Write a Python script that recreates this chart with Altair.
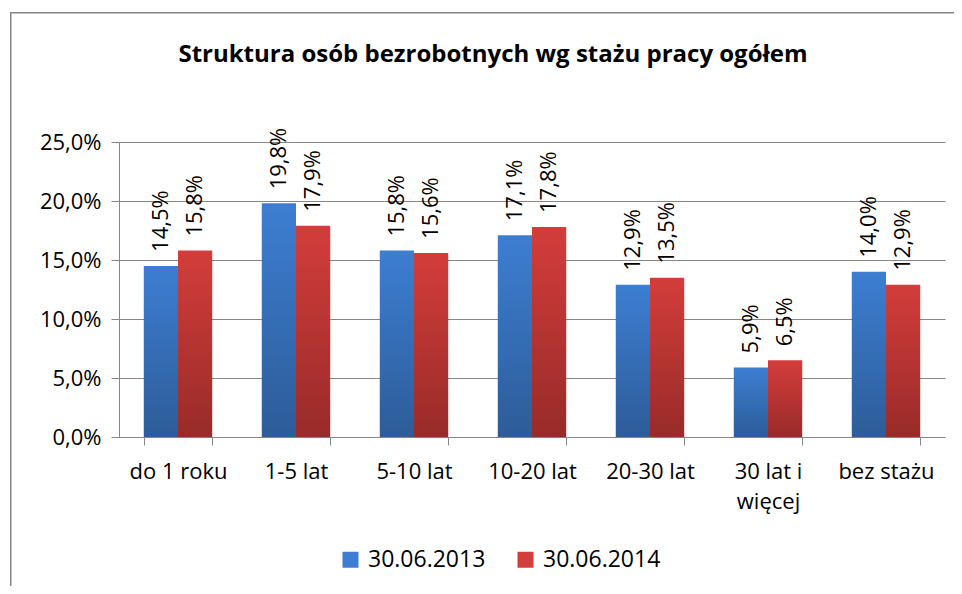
import altair as alt
import pandas as pd

title_text = "Struktura osób bezrobotnych wg stażu pracy ogółem"
categories = ["do 1 roku", "1-5 lat", "5-10 lat", "10-20 lat", "20-30 lat", "30 lat i więcej", "bez stażu"]
series = ["30.06.2013", "30.06.2014"]
v2013 = [0.145, 0.198, 0.158, 0.171, 0.129, 0.059, 0.140]
v2014 = [0.158, 0.179, 0.156, 0.178, 0.135, 0.065, 0.129]
y_ticks = [0, 0.05, 0.10, 0.15, 0.20, 0.25]

rows = []
for c, a, b in zip(categories, v2013, v2014):
    rows.append({"cat": c, "series": series[0], "value": a})
    rows.append({"cat": c, "series": series[1], "value": b})
df = pd.DataFrame(rows)

FONT = "Open Sans"
GRAY = "#868686"
BLUE_TOP, BLUE_BOT = "#3D7ED2", "#2D5C98"
RED_TOP, RED_BOT = "#D33D3B", "#982B29"

x_enc = alt.X(
    "cat:N",
    sort=categories,
    scale=alt.Scale(domain=categories, paddingInner=0.42, paddingOuter=0.21),
    axis=alt.Axis(
        title=None,
        tickBand="extent",
        labelExpr="datum.label == '30 lat i więcej' ? ['30 lat i', 'więcej'] : datum.label",
        labelAngle=0,
        labelFontSize=22,
        labelLineHeight=30,
        labelPadding=16,
        tickSize=8,
        labelColor="#000000",
        labelFont=FONT,
        domainColor=GRAY,
        tickColor=GRAY,
        grid=False,
    ),
)
xo_enc = alt.XOffset("series:N", scale=alt.Scale(domain=series, paddingInner=0, paddingOuter=0))
y_enc = alt.Y(
    "value:Q",
    scale=alt.Scale(domain=[0, 0.25], nice=False),
    axis=alt.Axis(
        title=None,
        values=y_ticks,
        labelExpr="replace(format(datum.value, '.1%'), '.', ',')",
        labelFontSize=22,
        labelFont=FONT,
        labelColor="#000000",
        labelPadding=10,
        tickSize=8,
        domainColor=GRAY,
        tickColor=GRAY,
        gridColor=GRAY,
        grid=True,
    ),
)

base = alt.Chart(df)

def grad(top, bot):
    return alt.Gradient(
        gradient="linear",
        stops=[alt.GradientStop(color=top, offset=0), alt.GradientStop(color=bot, offset=1)],
        x1=0, x2=0, y1=0, y2=1,
    )

bars13 = base.transform_filter(alt.datum.series == series[0]).mark_bar(
    color=grad(BLUE_TOP, BLUE_BOT)
).encode(x=x_enc, xOffset=xo_enc, y=y_enc)
bars14 = base.transform_filter(alt.datum.series == series[1]).mark_bar(
    color=grad(RED_TOP, RED_BOT)
).encode(x=x_enc, xOffset=xo_enc, y=y_enc)

labels = base.transform_calculate(
    label="replace(format(datum.value, '.1%'), '.', ',')"
).mark_text(
    angle=270, align="left", baseline="middle", dx=14, fontSize=22, font=FONT, color="#000000"
).encode(x=x_enc, xOffset=xo_enc, y=y_enc, text="label:N")

legend_layer = base.mark_square(opacity=0).encode(
    x=x_enc, xOffset=xo_enc, y=y_enc,
    color=alt.Color(
        "series:N",
        scale=alt.Scale(domain=series, range=[BLUE_TOP, RED_TOP]),
        legend=alt.Legend(
            title=None,
            orient="none",
            legendX=220,
            legendY=406,
            direction="horizontal",
            symbolType="square",
            symbolSize=256,
            symbolOpacity=1,
            symbolStrokeWidth=0,
            labelFontSize=23,
            labelFont=FONT,
            labelColor="#000000",
            labelOffset=6,
            columnPadding=28,
            padding=0,
        ),
    ),
)

deco = alt.Data(values=[{"t": title_text}])
frame_left = alt.Chart(deco).mark_rect(color=GRAY, strokeWidth=0).encode(
    x=alt.value(-109), x2=alt.value(-107.5), y=alt.value(-130), y2=alt.value(600)
)
frame_top = alt.Chart(deco).mark_rect(color=GRAY, strokeWidth=0).encode(
    x=alt.value(-109), x2=alt.value(900), y=alt.value(-130), y2=alt.value(-128.5)
)
title_mark = alt.Chart(deco).mark_text(
    font=FONT, fontSize=24, fontWeight="bold", color="#000000",
    align="center", baseline="alphabetic"
).encode(x=alt.value(374), y=alt.value(-80), text="t:N")

chart = alt.layer(frame_left, frame_top, title_mark, bars13, bars14, labels, legend_layer).properties(
    width=826,
    height=295,
    autosize=alt.AutoSizeParams(type="none"),
    padding={"left": 111, "top": 134, "right": 9, "bottom": 149},
).configure_view(stroke=None)

chart.save("out.html", embed_options={"renderer": "svg", "actions": False})
